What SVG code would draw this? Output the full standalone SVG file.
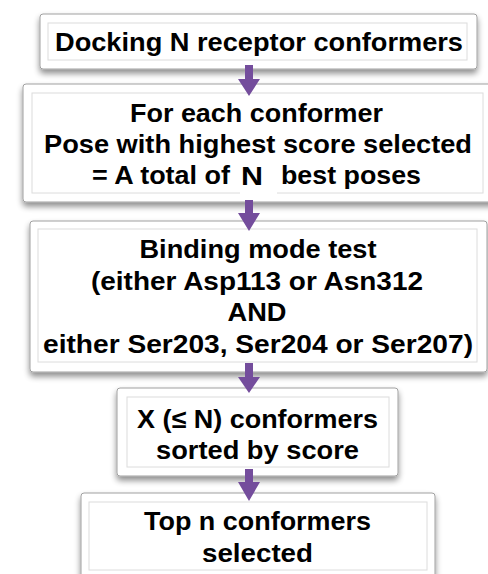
<svg xmlns="http://www.w3.org/2000/svg" width="488" height="574" viewBox="0 0 488 574">
<defs>
<filter id="sh" x="-10%" y="-20%" width="120%" height="160%">
<feGaussianBlur in="SourceAlpha" stdDeviation="3"/>
<feOffset dy="4" result="b"/>
<feComponentTransfer><feFuncA type="linear" slope="0.45"/></feComponentTransfer>
<feMerge><feMergeNode/><feMergeNode in="SourceGraphic"/></feMerge>
</filter>
</defs>
<style>
.outer{fill:#ffffff;stroke:#a0a0a0;stroke-width:1;filter:url(#sh)}
.inner{fill:#ffffff;stroke:#dcdcdc;stroke-width:1}
.t{font-family:"Liberation Sans",Arial,sans-serif;font-weight:bold;font-size:26px;fill:#000000;text-anchor:middle}
.arr{fill:#744d9c}
</style>
<rect width="488" height="574" fill="#ffffff"/>
<g id="node1">
<rect class="outer" x="40" y="14" width="437" height="55" rx="3"/>
<rect class="inner" x="48" y="23" width="419" height="37"/>
<text class="t" x="259" y="51" textLength="408" lengthAdjust="spacingAndGlyphs">Docking N receptor conformers</text>
</g>
<g id="node2">
<rect class="outer" x="23" y="84" width="475" height="118" rx="3"/>
<rect class="inner" x="32" y="93" width="451" height="100"/>
<text class="t" x="256.5" y="122" textLength="253" lengthAdjust="spacingAndGlyphs">For each conformer</text>
<text class="t" x="258" y="153" textLength="428" lengthAdjust="spacingAndGlyphs">Pose with highest score selected</text>
<text class="t" x="161" y="184" textLength="138" lengthAdjust="spacingAndGlyphs">= A total of</text>
<rect x="240" y="180" width="37" height="17" fill="#ffffff"/>
<text class="t" x="252" y="185" font-size="27" textLength="22" lengthAdjust="spacingAndGlyphs">N</text>
<text class="t" x="351" y="184" textLength="140" lengthAdjust="spacingAndGlyphs">best poses</text>
</g>
<g id="node3">
<rect class="outer" x="30" y="221" width="457" height="151" rx="3"/>
<rect class="inner" x="38" y="229" width="439" height="133"/>
<text class="t" x="258" y="258" textLength="237" lengthAdjust="spacingAndGlyphs">Binding mode test</text>
<text class="t" x="257" y="290" textLength="332" lengthAdjust="spacingAndGlyphs">(either Asp113 or Asn312</text>
<text class="t" x="257" y="321" textLength="59" lengthAdjust="spacingAndGlyphs">AND</text>
<text class="t" x="258" y="353" textLength="430" lengthAdjust="spacingAndGlyphs">either Ser203, Ser204 or Ser207)</text>
</g>
<g id="node4">
<rect class="outer" x="117" y="388" width="281" height="88" rx="3"/>
<rect class="inner" x="127" y="397" width="262" height="70"/>
<text class="t" x="257.5" y="428" textLength="241" lengthAdjust="spacingAndGlyphs">X (≤ N) conformers</text>
<text class="t" x="257.5" y="459" textLength="203" lengthAdjust="spacingAndGlyphs">sorted by score</text>
</g>
<g id="node5">
<rect class="outer" x="81" y="493" width="354" height="90" rx="3"/>
<rect class="inner" x="89" y="502" width="338" height="68"/>
<text class="t" x="257.5" y="530" textLength="227" lengthAdjust="spacingAndGlyphs">Top n conformers</text>
<text class="t" x="257.5" y="562" textLength="111" lengthAdjust="spacingAndGlyphs">selected</text>
</g>
<g id="connectors">
<polygon class="arr" points="245,65 253,65 253,79 260,79 249,96 238,79 245,79"/>
<polygon class="arr" points="245,200 253,200 253,213 260,213 249,231 238,213 245,213"/>
<polygon class="arr" points="245,363 253,363 253,377 260,377 249,393 238,377 245,377"/>
<polygon class="arr" points="245,469 253,469 253,482 260,482 249,501 238,482 245,482"/>
</g>
</svg>
